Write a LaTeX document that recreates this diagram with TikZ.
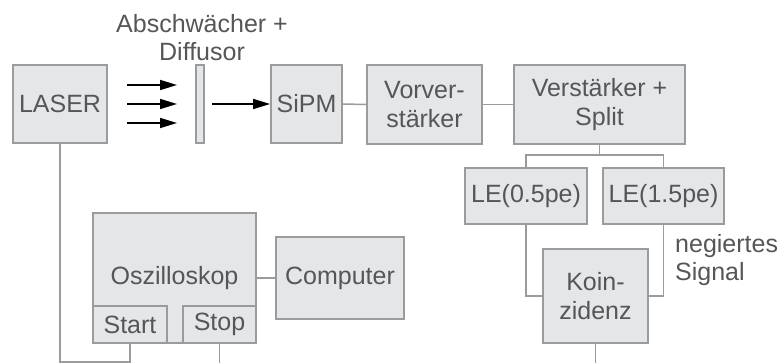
\documentclass[tikz,border=0pt]{standalone}
\usepackage{fontspec}
\setmainfont{Liberation Sans}
\usetikzlibrary{arrows.meta}
\definecolor{boxfill}{HTML}{E5E6E8}
\definecolor{boxline}{HTML}{9A9B9D}
\definecolor{txt}{HTML}{555658}
\tikzset{
  box/.style={draw=boxline, fill=boxfill, line width=1.8pt, inner sep=0pt,
    text=txt, align=center, font=\fontsize{25}{29}\selectfont},
  wire/.style={draw=boxline, line width=1.5pt},
  beam/.style={draw=black, line width=1.7pt, -{Triangle[length=17pt,width=10pt]}},
  label/.style={text=txt, inner sep=0pt, font=\fontsize{25}{28}\selectfont}
}
\begin{document}
\begin{tikzpicture}[x=1pt,y=-1pt]
\useasboundingbox (0,0) rectangle (780,363);

% optical part
\node[box, minimum width=94pt, minimum height=78pt] (laser) at (60,104) {LASER};
\node[box, minimum width=8pt, minimum height=78pt] (diff) at (200,104) {};
\node[label, align=center] (difflabel) at (202,38) {Abschwächer +\\Diffusor};
\coordinate (b1s) at (127,85);  \coordinate (b1e) at (177,85);
\coordinate (b2s) at (127,104); \coordinate (b2e) at (177,104);
\coordinate (b3s) at (127,123); \coordinate (b3e) at (177,123);
\draw[beam] (b1s) -- (b1e);
\draw[beam] (b2s) -- (b2e);
\draw[beam] (b3s) -- (b3e);
\node[box, minimum width=71pt, minimum height=78pt] (sipm) at (306.5,104) {SiPM};
\coordinate (b4s) at (212,104);
\draw[beam] (b4s) -- (sipm.west);

% electronics chain
\node[box, minimum width=115pt, minimum height=79pt] (vorv) at (424.5,104.5) {Vorver-\\stärker};
\node[box, minimum width=171pt, minimum height=79pt] (verst) at (599.5,104.5) {Verstärker +\\Split};
\node[box, minimum width=122pt, minimum height=56pt] (le05) at (526,196) {LE(0.5pe)};
\node[box, minimum width=121pt, minimum height=56pt] (le15) at (663.5,196) {LE(1.5pe)};
\node[box, minimum width=105pt, minimum height=94pt] (koinz) at (595.5,296) {Koin-\\zidenz};
\node[label, align=left, anchor=west] (neg) at (675,260) {negiertes\\Signal};

% readout
\node[box, minimum width=163pt, minimum height=130pt] (oszi) at (174.5,278) {Oszilloskop};
\node[box, minimum width=74pt, minimum height=37pt] (start) at (130,324.5) {Start};
\node[box, minimum width=73pt, minimum height=37pt] (stop) at (219.5,324.5) {Stop};
\node[box, minimum width=128pt, minimum height=82pt] (comp) at (340,278) {Computer};

% connections
\draw[wire] (sipm.east) -- (vorv.west);
\draw[wire] (vorv.east) -- (verst.west);
\coordinate (split) at (599.5,155);
\draw[wire] (verst.south) -- (split);
\draw[wire] (le05.north) |- (split) -| (le15.north);
\draw[wire] (le05.south) |- (koinz.west);
\draw[wire] (le15.south) |- (koinz.east);
\coordinate (kout) at (595.5,363);
\draw[wire] (koinz.south) -- (kout);
\draw[wire] (oszi.east) -- (comp.west);
\coordinate (trig) at (60,362);
\draw[wire] (laser.south) -- (trig) -| (start.south);
\coordinate (sout) at (219.5,363);
\draw[wire] (stop.south) -- (sout);
\end{tikzpicture}
\end{document}
